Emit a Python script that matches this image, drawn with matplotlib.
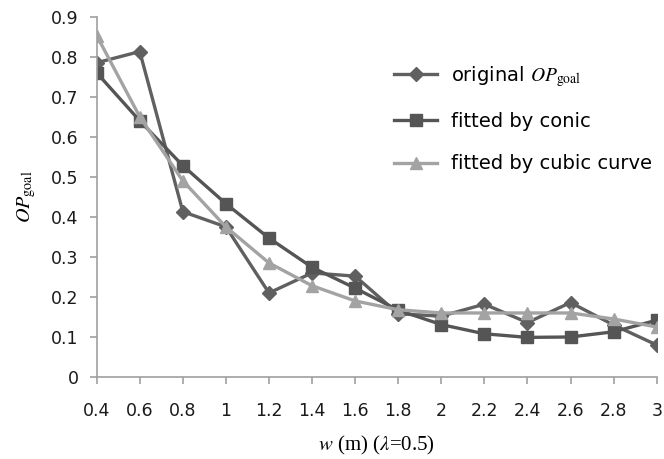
import matplotlib.pyplot as plt
import numpy as np

# x categories (w in m)
w_labels = ['0.4', '0.6', '0.8', '1', '1.2', '1.4', '1.6', '1.8', '2', '2.2', '2.4', '2.6', '2.8', '3']

original = [0.785, 0.813, 0.413, 0.375, 0.21, 0.26, 0.252, 0.158, 0.152, 0.182, 0.136, 0.186, 0.13, 0.08]
conic = [0.76, 0.64, 0.528, 0.433, 0.347, 0.274, 0.222, 0.167, 0.131, 0.108, 0.099, 0.1, 0.113, 0.142]
cubic = [0.853, 0.65, 0.49, 0.375, 0.285, 0.228, 0.19, 0.168, 0.16, 0.16, 0.16, 0.16, 0.145, 0.125]

plt.rcParams['mathtext.fontset'] = 'stix'
plt.rcParams['font.family'] = 'DejaVu Sans'

fig = plt.figure(figsize=(6.64, 4.59), dpi=100)
ax = fig.add_axes([0.1456, 0.1786, 0.8434, 0.785])

x = np.arange(len(w_labels))

ax.plot(x, original, color='#606060', lw=2.4, marker='D', ms=7,
        label=r'original $OP_{\mathrm{goal}}$')
ax.plot(x, conic, color='#555555', lw=2.4, marker='s', ms=9,
        label='fitted by conic')
ax.plot(x, cubic, color='#a3a3a3', lw=2.4, marker='^', ms=9,
        label='fitted by cubic curve')

ax.set_xlim(0, len(w_labels) - 1)
ax.set_ylim(0, 0.9)
ax.set_xticks(x)
ax.set_xticklabels(w_labels)
ax.set_yticks(np.arange(0, 0.91, 0.1))
ax.set_yticklabels(['0', '0.1', '0.2', '0.3', '0.4', '0.5', '0.6', '0.7', '0.8', '0.9'])

for s in ['top', 'right']:
    ax.spines[s].set_visible(False)
for s in ['left', 'bottom']:
    ax.spines[s].set_color('#a0a0a0')
    ax.spines[s].set_linewidth(1.2)
ax.tick_params(axis='both', colors='#a0a0a0', labelcolor='#1a1a1a', labelsize=12.5,
               length=5, width=1.2)
ax.tick_params(axis='x', pad=13)
ax.tick_params(axis='y', pad=8)

ax.set_xlabel(r'$w$ (m) ($\lambda$=0.5)', fontfamily='Liberation Serif', fontsize=15, labelpad=10)
ax.set_ylabel(r'$OP_{\mathrm{goal}}$', fontsize=14.5, labelpad=9)

leg = ax.legend(loc='upper left', bbox_to_anchor=(0.5, 0.918), frameon=False,
                fontsize=14, labelspacing=1.2, handlelength=2.2, handletextpad=0.7)

fig.savefig('out.png', dpi=100)
